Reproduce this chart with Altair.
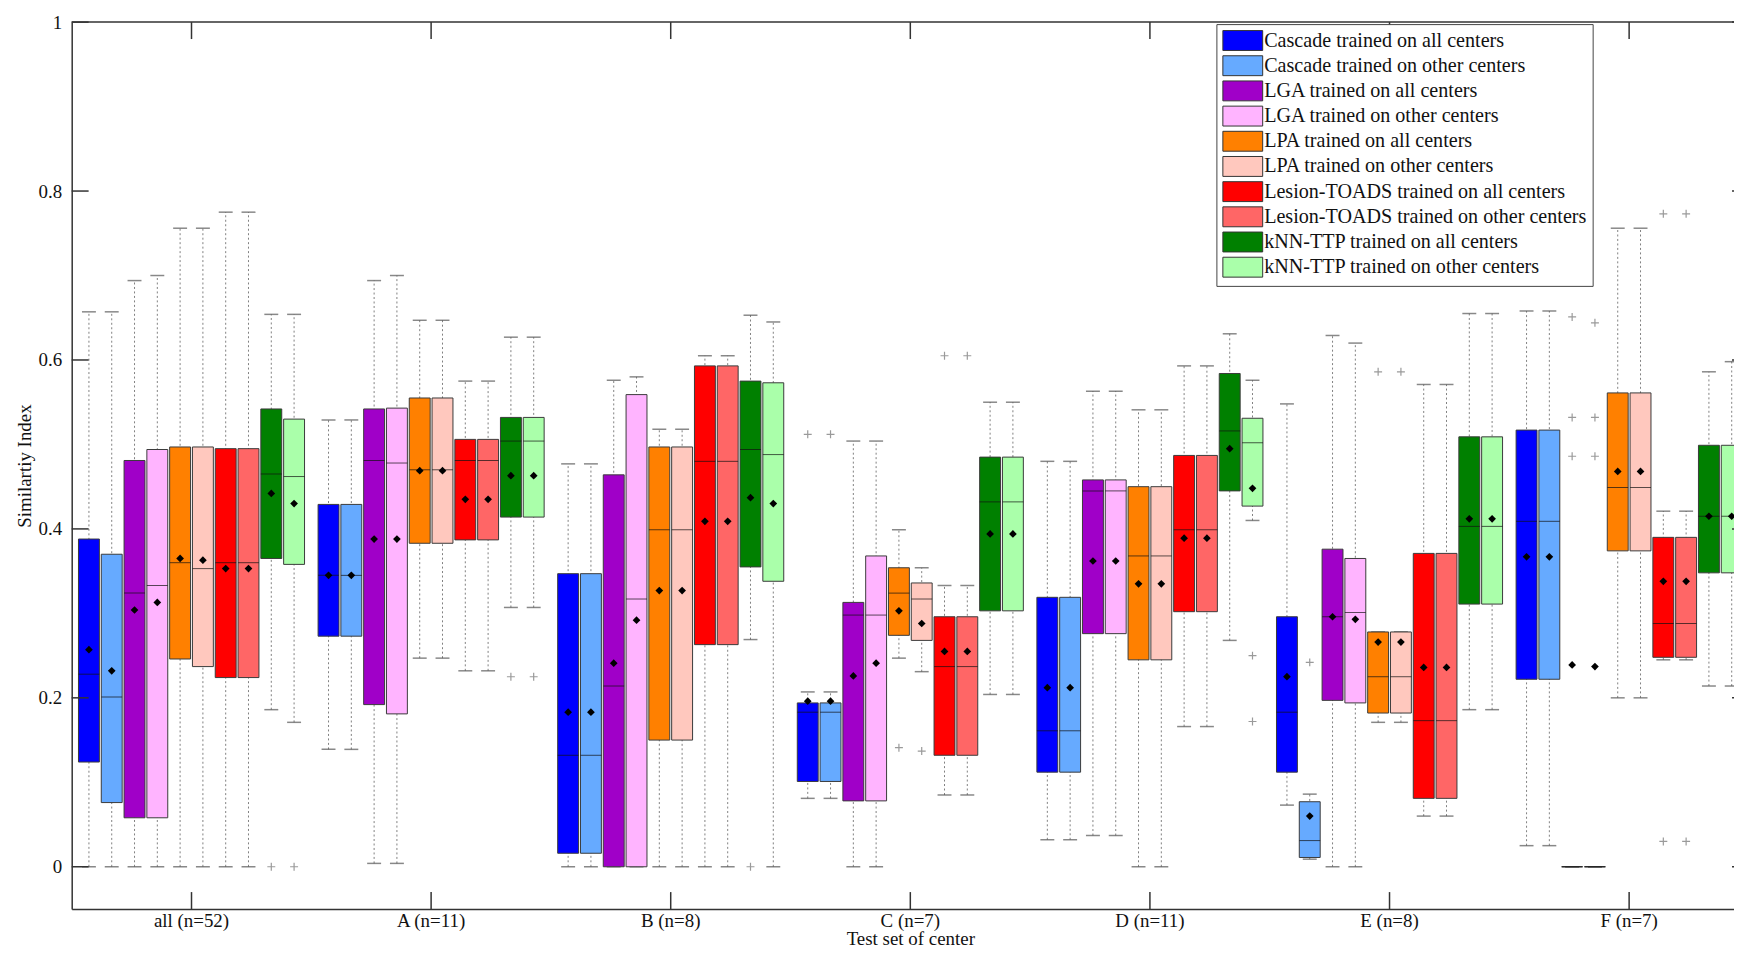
import altair as alt
import pandas as pd

groups = ["all (n=52)", "A (n=11)", "B (n=8)", "C (n=7)", "D (n=11)", "E (n=8)", "F (n=7)"]
series = [
    "Cascade trained on all centers", "Cascade trained on other centers",
    "LGA trained on all centers", "LGA trained on other centers",
    "LPA trained on all centers", "LPA trained on other centers",
    "Lesion-TOADS trained on all centers", "Lesion-TOADS trained on other centers",
    "kNN-TTP trained on all centers", "kNN-TTP trained on other centers",
]
colors = ["#0000FF", "#66AAFF", "#A000C8", "#FFB4FF", "#FF8000",
          "#FFC8BE", "#FF0000", "#FF6666", "#008000", "#AAFFAA"]

# one list of 10 values (series order) per group
q1 = [
    [0.124, 0.076, 0.058, 0.058, 0.246, 0.237, 0.224, 0.224, 0.365, 0.358],
    [0.273, 0.273, 0.192, 0.181, 0.383, 0.383, 0.387, 0.387, 0.414, 0.414],
    [0.016, 0.016, 0.000, 0.000, 0.150, 0.150, 0.263, 0.263, 0.355, 0.338],
    [0.101, 0.101, 0.078, 0.078, 0.274, 0.268, 0.132, 0.132, 0.303, 0.303],
    [0.112, 0.112, 0.276, 0.276, 0.245, 0.245, 0.302, 0.302, 0.445, 0.427],
    [0.112, 0.011, 0.197, 0.194, 0.182, 0.182, 0.081, 0.081, 0.311, 0.311],
    [0.222, 0.222, 0.000, 0.000, 0.374, 0.374, 0.248, 0.248, 0.348, 0.348],
]
q3 = [
    [0.388, 0.370, 0.481, 0.494, 0.497, 0.497, 0.495, 0.495, 0.542, 0.530],
    [0.429, 0.429, 0.542, 0.543, 0.555, 0.555, 0.506, 0.506, 0.532, 0.532],
    [0.347, 0.347, 0.464, 0.559, 0.497, 0.497, 0.593, 0.593, 0.575, 0.573],
    [0.194, 0.194, 0.313, 0.368, 0.354, 0.336, 0.296, 0.296, 0.485, 0.485],
    [0.319, 0.319, 0.458, 0.458, 0.450, 0.450, 0.487, 0.487, 0.584, 0.531],
    [0.296, 0.077, 0.376, 0.365, 0.278, 0.278, 0.371, 0.371, 0.509, 0.509],
    [0.517, 0.517, 0.000, 0.000, 0.561, 0.561, 0.390, 0.390, 0.499, 0.499],
]
median = [
    [0.228, 0.201, 0.324, 0.333, 0.360, 0.353, 0.360, 0.360, 0.465, 0.462],
    [0.345, 0.345, 0.481, 0.478, 0.470, 0.470, 0.481, 0.481, 0.504, 0.504],
    [0.132, 0.132, 0.214, 0.317, 0.399, 0.399, 0.480, 0.480, 0.494, 0.488],
    [0.183, 0.183, 0.298, 0.298, 0.324, 0.317, 0.237, 0.237, 0.432, 0.432],
    [0.161, 0.161, 0.445, 0.445, 0.368, 0.368, 0.399, 0.399, 0.516, 0.502],
    [0.183, 0.031, 0.296, 0.301, 0.225, 0.225, 0.173, 0.173, 0.403, 0.403],
    [0.409, 0.409, 0.000, 0.000, 0.449, 0.449, 0.288, 0.288, 0.415, 0.415],
]
mean = [
    [0.257, 0.232, 0.304, 0.313, 0.365, 0.363, 0.353, 0.353, 0.442, 0.430],
    [0.345, 0.345, 0.388, 0.388, 0.469, 0.469, 0.435, 0.435, 0.463, 0.463],
    [0.183, 0.183, 0.241, 0.292, 0.327, 0.327, 0.409, 0.409, 0.437, 0.430],
    [0.196, 0.196, 0.226, 0.241, 0.303, 0.288, 0.255, 0.255, 0.394, 0.394],
    [0.212, 0.212, 0.362, 0.362, 0.335, 0.335, 0.389, 0.389, 0.495, 0.448],
    [0.225, 0.060, 0.296, 0.293, 0.266, 0.266, 0.236, 0.236, 0.412, 0.412],
    [0.367, 0.367, 0.239, 0.237, 0.468, 0.468, 0.338, 0.338, 0.415, 0.415],
]
whisker_low = [
    [0.000, 0.000, 0.000, 0.000, 0.000, 0.000, 0.000, 0.000, 0.186, 0.171],
    [0.139, 0.139, 0.004, 0.004, 0.247, 0.247, 0.232, 0.232, 0.307, 0.307],
    [0.000, 0.000, 0.000, 0.000, 0.000, 0.000, 0.000, 0.000, 0.269, 0.000],
    [0.081, 0.081, 0.000, 0.000, 0.247, 0.231, 0.085, 0.085, 0.204, 0.204],
    [0.032, 0.032, 0.037, 0.037, 0.000, 0.000, 0.166, 0.166, 0.268, 0.410],
    [0.073, 0.009, 0.000, 0.000, 0.171, 0.171, 0.060, 0.060, 0.186, 0.186],
    [0.025, 0.025, 0.000, 0.000, 0.200, 0.200, 0.245, 0.245, 0.214, 0.214],
]
whisker_high = [
    [0.657, 0.657, 0.694, 0.700, 0.756, 0.756, 0.775, 0.775, 0.654, 0.654],
    [0.529, 0.529, 0.694, 0.700, 0.647, 0.647, 0.575, 0.575, 0.627, 0.627],
    [0.477, 0.477, 0.576, 0.580, 0.518, 0.518, 0.605, 0.605, 0.653, 0.645],
    [0.207, 0.207, 0.504, 0.504, 0.399, 0.354, 0.333, 0.333, 0.550, 0.550],
    [0.480, 0.480, 0.563, 0.563, 0.541, 0.541, 0.593, 0.593, 0.631, 0.576],
    [0.548, 0.086, 0.629, 0.620, 0.278, 0.278, 0.571, 0.571, 0.655, 0.655],
    [0.658, 0.658, 0.000, 0.000, 0.756, 0.756, 0.421, 0.421, 0.586, 0.598],
]
# outliers: (group index, series index, value)
outlier_group = [0, 0, 1, 1, 2, 3, 3, 3, 3, 3, 3, 4, 4, 5, 5, 5,
                 6, 6, 6, 6, 6, 6, 6, 6, 6, 6]
outlier_series = [8, 9, 8, 9, 8, 0, 1, 4, 5, 6, 7, 9, 9, 1, 4, 5,
                  2, 2, 2, 3, 3, 3, 6, 6, 7, 7]
outlier_value = [0.0, 0.0, 0.225, 0.225, 0.0, 0.512, 0.512, 0.141, 0.137, 0.605, 0.605,
                 0.250, 0.172, 0.242, 0.586, 0.586,
                 0.651, 0.532, 0.486, 0.644, 0.532, 0.486, 0.773, 0.030, 0.773, 0.030]
y_ticks = [0, 0.2, 0.4, 0.6, 0.8, 1.0]

FONT = "Liberation Serif"
INK = "#333333"

rows = []
for gi, g in enumerate(groups):
    for si, s in enumerate(series):
        rows.append(dict(group=g, series=s, q1=q1[gi][si], q3=q3[gi][si],
                         med=median[gi][si], mean=mean[gi][si],
                         lo=whisker_low[gi][si], hi=whisker_high[gi][si]))
df = pd.DataFrame(rows)
caps = df.melt(id_vars=["group", "series"], value_vars=["lo", "hi"], value_name="v")
outl = pd.DataFrame(dict(group=[groups[i] for i in outlier_group],
                         series=[series[i] for i in outlier_series],
                         v=outlier_value))
gdf = pd.DataFrame(dict(group=groups))
ydf = pd.DataFrame(dict(v=y_ticks))
topdf = pd.DataFrame(dict(v=[1.0]))

# plot area is 1685 px wide (as in the source figure); the page crops it at 1670
yscale = alt.Scale(domain=[-0.05, 1.0], nice=False, zero=False)
xscale = alt.Scale(domain=groups, range=[0, 1685], paddingInner=0, paddingOuter=0)
oscale = alt.Scale(domain=series, paddingInner=0.083, paddingOuter=0.297)

XAX = alt.Axis(ticks=False, domain=True, domainColor=INK, domainWidth=1.5, labelAngle=0,
               labelFont=FONT, labelFontSize=19, labelColor="#111", labelPadding=3,
               titleFont=FONT, titleFontSize=19, titleFontWeight="normal",
               titleColor="#111", titleY=30, titleBaseline="middle")
YAX = alt.Axis(values=y_ticks, format="~g", ticks=False, domain=True, domainColor=INK,
               domainWidth=1.5, grid=False,
               labelFont=FONT, labelFontSize=19, labelColor="#111", labelPadding=10,
               titleFont=FONT, titleFontSize=19, titleFontWeight="normal",
               titleColor="#111", titleX=-47, titleBaseline="middle")
XT = "Test set of center"
YT = "Similartiy Index"

X = alt.X("group:N", scale=xscale, axis=XAX, title=XT)
XO = alt.XOffset("series:N", scale=oscale)


def Y(field):
    return alt.Y(field, scale=yscale, axis=YAX, title=YT)


whisk = alt.Chart(df).mark_rule(color="#808080", strokeWidth=1, strokeDash=[2, 2.5]).encode(
    x=X, xOffset=XO, y=Y("lo:Q"), y2="hi:Q")

capm = alt.Chart(caps).mark_tick(color="#555555", size=14, thickness=1.5).encode(
    x=X, xOffset=XO, y=Y("v:Q"))

boxes = alt.Chart(df).mark_bar(stroke="#3a3a3a", strokeWidth=1, opacity=1).encode(
    x=X, xOffset=XO, y=Y("q1:Q"), y2="q3:Q",
    color=alt.Color("series:N", scale=alt.Scale(domain=series, range=colors),
                    legend=alt.Legend(title=None, orient="none", legendX=1150, legendY=2,
                                      symbolType="M-2,-1H2V1H-2Z", symbolSize=400,
                                      symbolStrokeColor="#333", symbolStrokeWidth=1,
                                      symbolOpacity=1, symbolOffset=10, labelOffset=11,
                                      labelFont=FONT, labelFontSize=20.2, labelColor="#111",
                                      labelLimit=0, rowPadding=0.3, padding=6,
                                      strokeColor="#444", fillColor="white", cornerRadius=0)),
)

meds = alt.Chart(df).mark_tick(color="#111", size=21, thickness=1).encode(
    x=X, xOffset=XO, y=Y("med:Q"))

means = alt.Chart(df).mark_point(shape="diamond", filled=True, color="black", size=60, opacity=1).encode(
    x=X, xOffset=XO, y=Y("mean:Q"))

outs = alt.Chart(outl).mark_point(shape="M-1,0H1M0,-1V1", filled=False, stroke="#9a9a9a",
                                  strokeWidth=1.2, size=64, opacity=1).encode(
    x=X, xOffset=XO, y=Y("v:Q"))

top_border = alt.Chart(topdf).mark_rule(color=INK, strokeWidth=1.5).encode(y=Y("v:Q"))
top_ticks = alt.Chart(gdf).mark_rule(color=INK, strokeWidth=1.5).encode(
    x=X, y=alt.value(0), y2=alt.value(17))
bot_ticks = alt.Chart(gdf).mark_rule(color=INK, strokeWidth=1.5).encode(
    x=X, y=alt.value(891), y2=alt.value(874))
left_ticks = alt.Chart(ydf).mark_rule(color=INK, strokeWidth=1.5).encode(
    y=Y("v:Q"), x=alt.value(0), x2=alt.value(17))
right_ticks = alt.Chart(ydf).mark_rule(color=INK, strokeWidth=1.5).encode(
    y=Y("v:Q"), x=alt.value(1668), x2=alt.value(1685))

chart = alt.layer(whisk, capm, boxes, meds, means, outs, top_border,
                  top_ticks, bot_ticks, left_ticks, right_ticks).properties(
    width=1670, height=891, autosize="none",
    padding={"left": 64, "top": 12, "right": 0, "bottom": 38},
    background="white",
).configure_view(stroke=None)

chart.save("out.html", embed_options={"renderer": "svg", "actions": False})
